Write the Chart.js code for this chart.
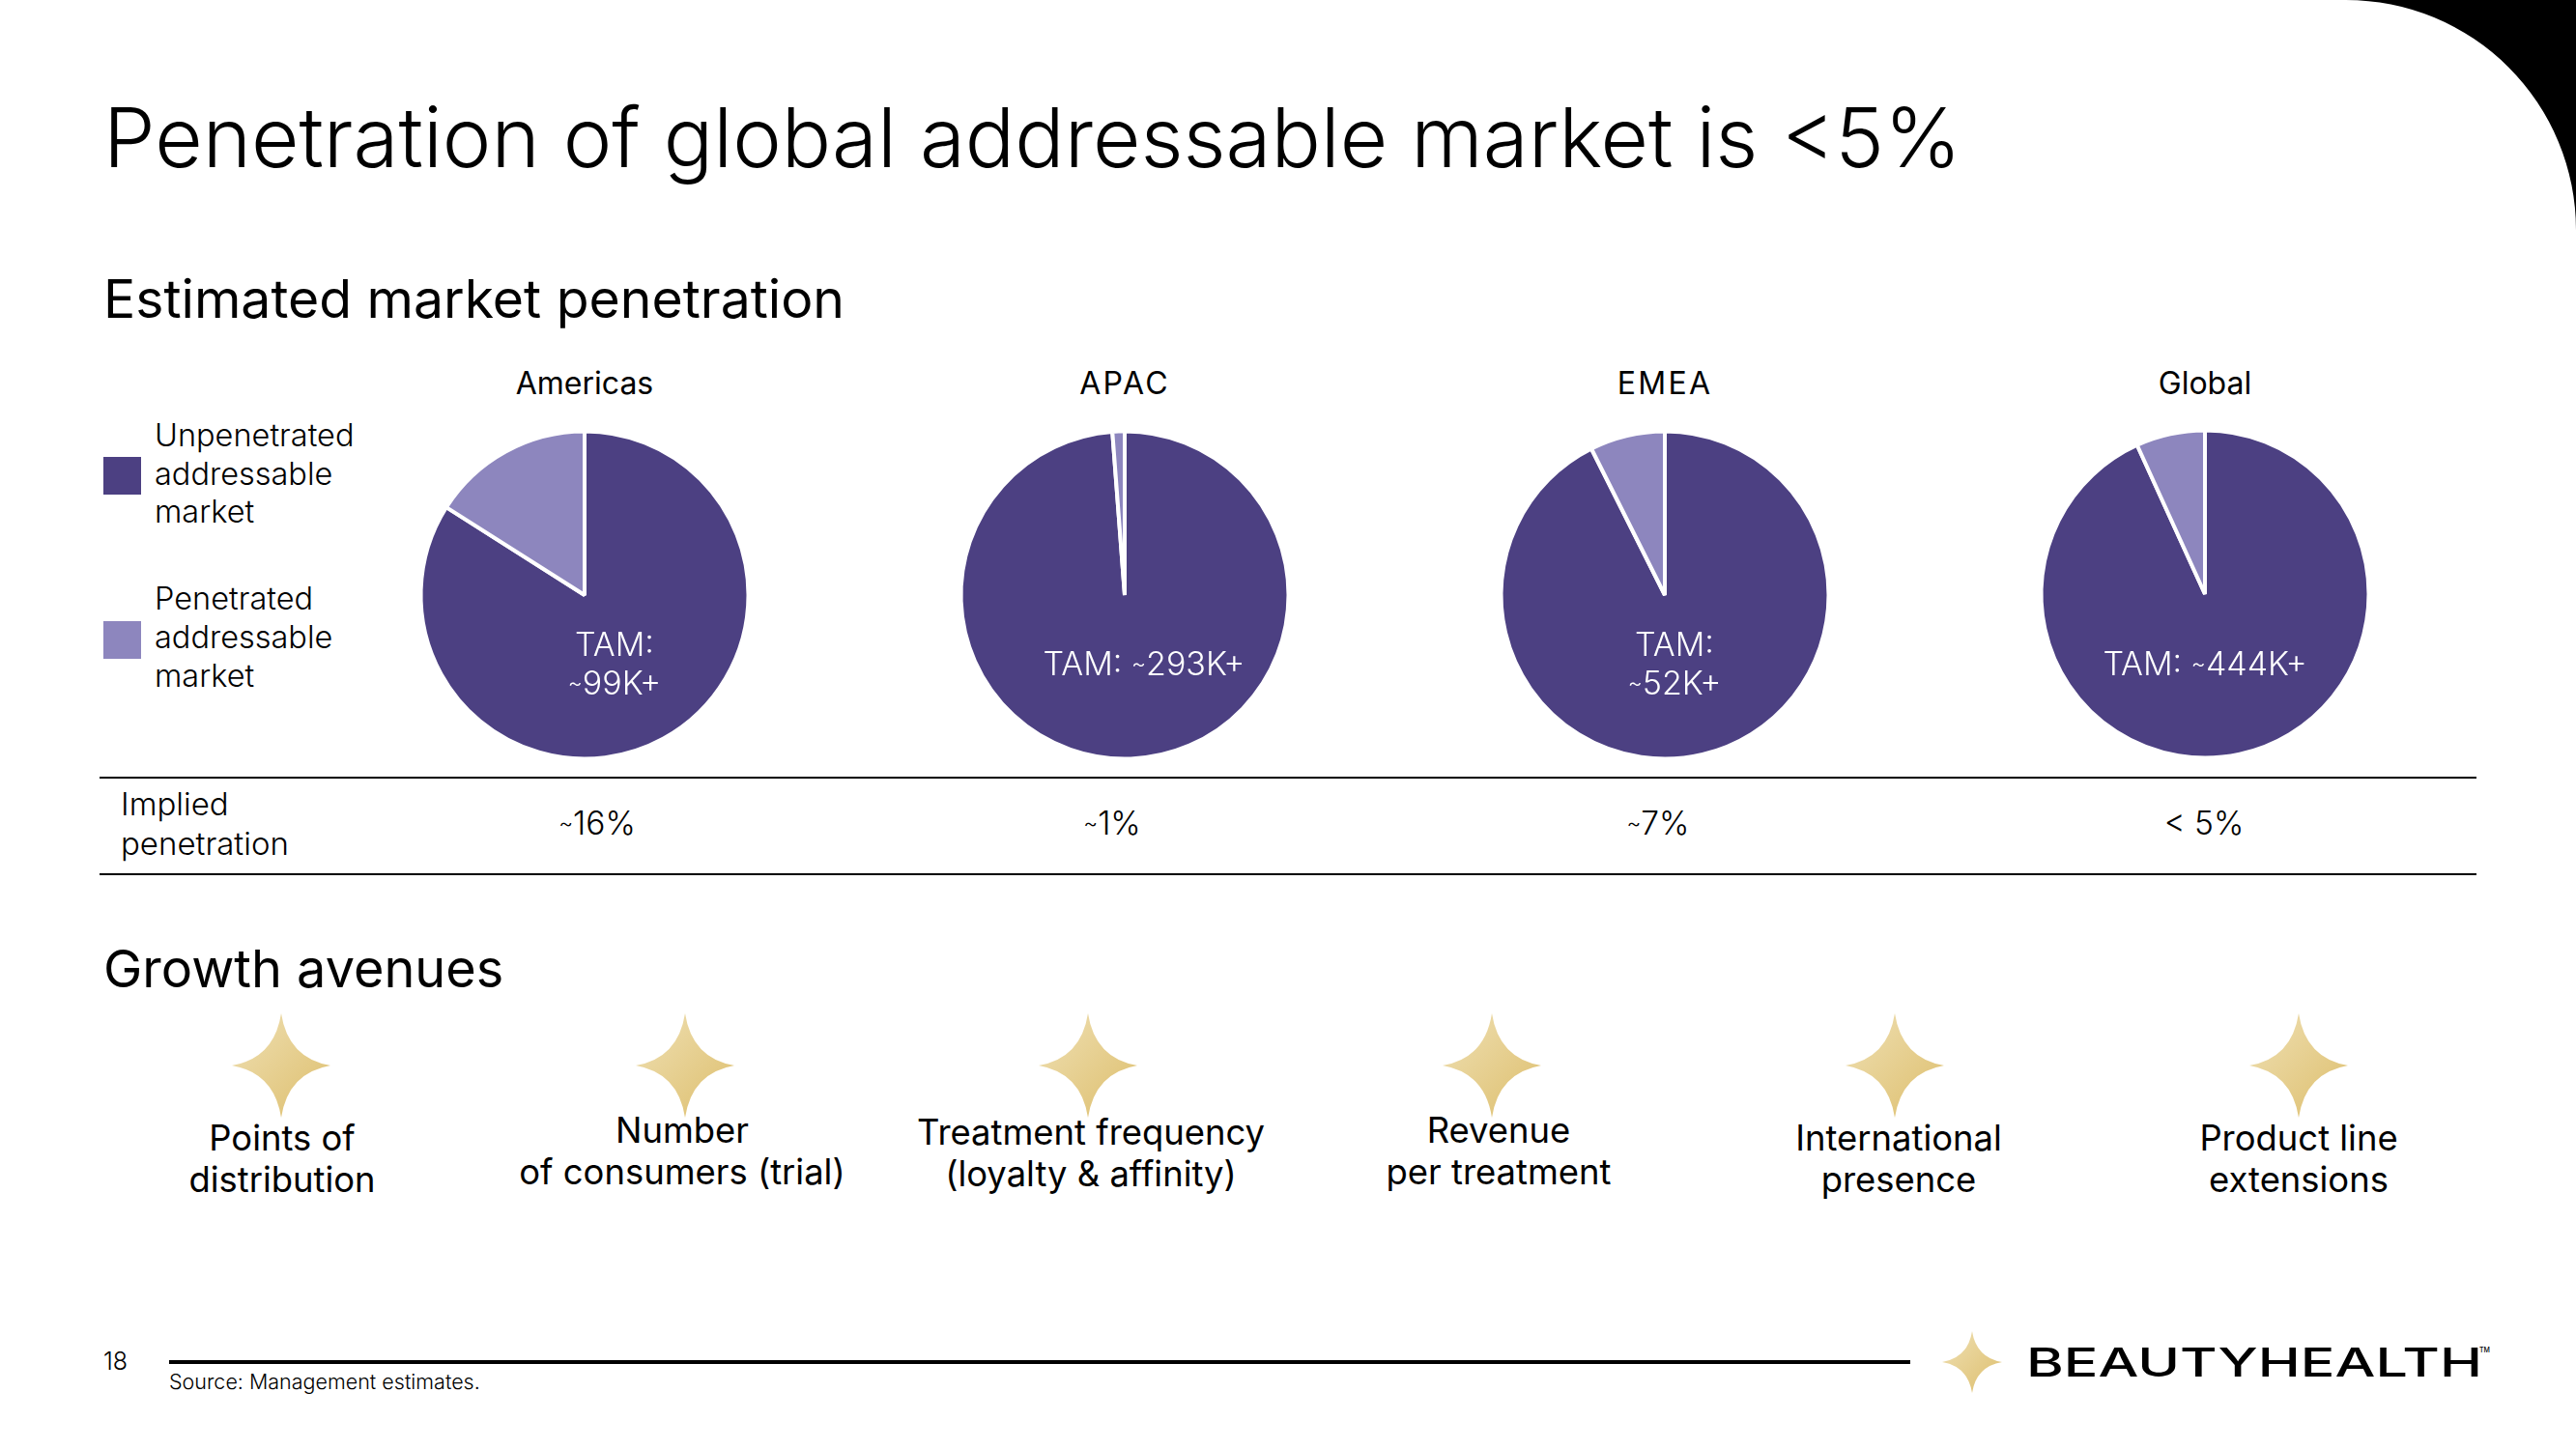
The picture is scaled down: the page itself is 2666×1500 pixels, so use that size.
<!DOCTYPE html>
<html><head><meta charset="utf-8">
<script src="https://cdn.jsdelivr.net/npm/chart.js@4"></script>
<style>
html,body{margin:0;padding:0;background:#fff;width:2666px;height:1500px;overflow:hidden}
body{font-family:Inter,sans-serif;color:#000;position:relative}
.t{position:absolute;white-space:nowrap;line-height:1}
.c{transform:translateX(-50%);text-align:center}
.chart{position:absolute;width:400px;height:400px}
.line{position:absolute;background:#000}
.tl{font-size:.68em;position:relative;top:-.18em}
svg{position:absolute}
</style></head><body>
<svg style="left:0;top:0" width="2666" height="1500">
<defs><linearGradient id="g" x1="0" y1="0" x2="1" y2="1"><stop offset="0" stop-color="#EFE0B4"/><stop offset="1" stop-color="#DDBE6C"/></linearGradient></defs>
<path d="M2428 0 A238 238 0 0 1 2666 238 L2666 0 Z" fill="#000"/>
<g id="stars"></g>
</svg>
<div id="root"></div>
<script>
const regions=['Americas','APAC','EMEA','Global'];
const unpenetrated=[84,98.8,92.6,93.2];
const penetrated=[16,1.2,7.4,6.8];
const implied=['~16%','~1%','~7%','< 5%'];
const tamLines=[['TAM:','~99K+'],['TAM: ~293K+'],['TAM:','~52K+'],['TAM: ~444K+']];
const segmentNames=['Unpenetrated addressable market','Penetrated addressable market'];
const avenues=[['Points of','distribution'],['Number','of consumers (trial)'],['Treatment frequency','(loyalty & affinity)'],['Revenue','per treatment'],['International','presence'],['Product line','extensions']];
const DARK='#4C4082',LIGHT='#8D86BE';

const root=document.getElementById('root');
function txt(s,x,y,size,opt={}){const d=document.createElement('div');d.className='t'+(opt.c?' c':'');
 if(s.includes('~')){s.split('~').forEach((p,i)=>{if(i){const sp=document.createElement('span');sp.className='tl';sp.textContent='~';d.appendChild(sp);}d.appendChild(document.createTextNode(p));});}
 else d.textContent=s;
 d.style.left=x+'px';d.style.top=y+'px';d.style.fontSize=size+'px';d.style.fontWeight=opt.w||400;if(opt.color)d.style.color=opt.color;if(opt.ls)d.style.letterSpacing=opt.ls+'px';root.appendChild(d);return d;}
function rect(x,y,w,h,col){const d=document.createElement('div');d.className='line';d.style.cssText+=`left:${x}px;top:${y}px;width:${w}px;height:${h}px;background:${col}`;root.appendChild(d);}

txt('Penetration of global addressable market is <5%',107,100,85.4,{w:300});
txt('Estimated market penetration',107,281,55.3);
txt('Growth avenues',107,976,54);

const cx=[605,1164,1723,2282],cy=[615.5,615.5,615.5,614.5];
const tamX=[636,1184,1733,2282];
const impX=[618,1151,1716,2281];

regions.forEach((r,i)=>{
 txt(r,cx[i],381,32,{c:1,ls:(r==='APAC'||r==='EMEA')?2.3:0});
 const w=document.createElement('div');w.className='chart';w.style.left=(cx[i]-200)+'px';w.style.top=(cy[i]-200)+'px';
 const cv=document.createElement('canvas');cv.width=400;cv.height=400;w.appendChild(cv);root.appendChild(w);
 new Chart(cv,{type:'pie',data:{labels:segmentNames,datasets:[{data:[unpenetrated[i],penetrated[i]],backgroundColor:[DARK,LIGHT],borderColor:'#fff',borderWidth:4,borderAlign:'center'}]},
 options:{responsive:false,animation:false,radius:169.5,plugins:{legend:{display:false},tooltip:{enabled:false}},layout:{padding:0}}});
 const lines=tamLines[i];
 if(lines.length==2){txt(lines[0],tamX[i],650,34,{c:1,color:'#fff',w:300});txt(lines[1],tamX[i],690,34,{c:1,color:'#fff',w:300});}
 else txt(lines[0],tamX[i],670,34,{c:1,color:'#fff',w:300});
 txt(implied[i],impX[i],836,33.5,{c:1,w:300});
});

// legend
rect(107,473,39,39,DARK);rect(107,643,39,39,LIGHT);
[['Unpenetrated',435],['addressable',475],['market',514],['Penetrated',604],['addressable',644],['market',684]].forEach(a=>txt(a[0],160,a[1],32.5,{w:300}));

rect(103,804,2460,2,'#000');rect(103,904,2460,2,'#000');
txt('Implied',125,816,33,{w:300});txt('penetration',125,857,33,{w:300});

// avenues
const sx=[291,709,1126,1544,1961,2379];
const ax=[292,706,1129,1551,1965,2379];
const ay=[[1160,1203],[1152,1195],[1154,1197],[1152,1195],[1160,1203],[1160,1203]];
const NS='http://www.w3.org/2000/svg';
function star(x,y,rx,ry){const p=document.createElementNS(NS,'path');const k=0.14;
 p.setAttribute('d',`M${x} ${y-ry} Q${x+rx*k} ${y-ry*k} ${x+rx} ${y} Q${x+rx*k} ${y+ry*k} ${x} ${y+ry} Q${x-rx*k} ${y+ry*k} ${x-rx} ${y} Q${x-rx*k} ${y-ry*k} ${x} ${y-ry}Z`);
 p.setAttribute('fill','url(#g)');document.getElementById('stars').appendChild(p);}
avenues.forEach((a,i)=>{star(sx[i],1103,51,54);txt(a[0],ax[i],ay[i][0],36.4,{c:1});txt(a[1],ax[i],ay[i][1],36.4,{c:1});});
star(2041,1410,31,32);

txt('18',107,1397,25,{w:300});
rect(175,1408,1802,4,'#000');
txt('Source: Management estimates.',175,1420,21.5,{w:300});
const logo=txt('BEAUTYHEALTH',2097,1390,41.5,{w:500});
logo.style.transformOrigin='0 0';logo.style.transform='scaleX(1.425)';
txt('TM',2566,1394,7,{w:500});
</script></body></html>
